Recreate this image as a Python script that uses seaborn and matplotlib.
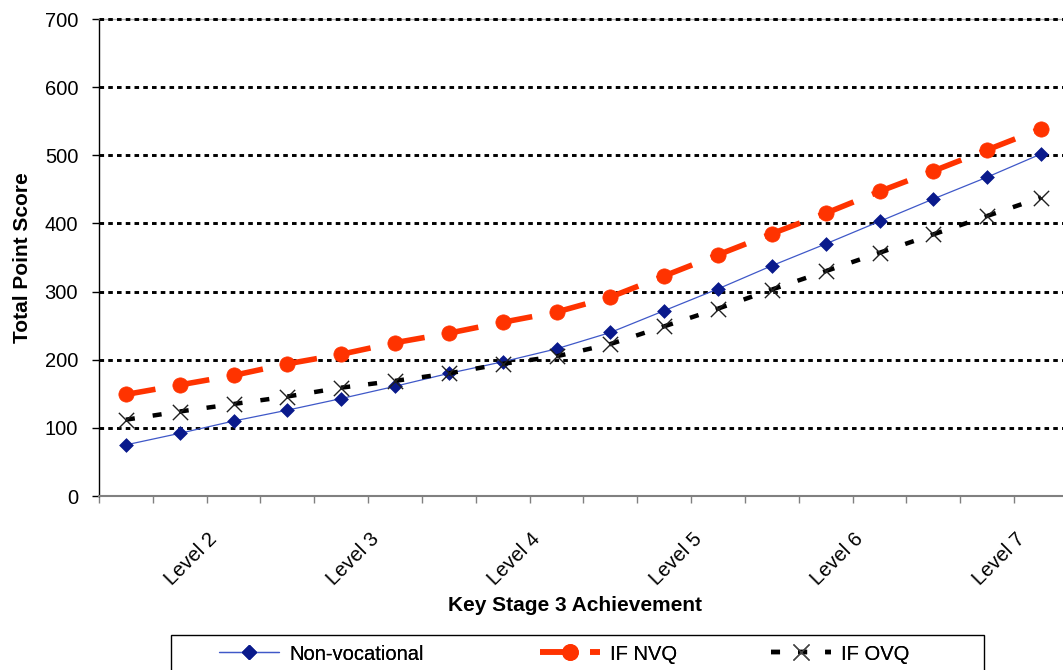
import numpy as np
import pandas as pd
import seaborn as sns
import matplotlib.pyplot as plt
from matplotlib.lines import Line2D
from matplotlib.patches import Rectangle
from matplotlib.transforms import ScaledTranslation

# values (18 points along the KS3 scale)
non_voc = [75, 92, 110, 126, 143, 161, 180, 197, 216, 240, 272, 304, 338, 370, 403, 436, 468, 502]
if_nvq = [149, 163, 177, 194, 208, 225, 239, 255, 270, 292, 323, 354, 385, 415, 447, 477, 508, 539]
if_ovq = [112, 124, 135, 146, 159, 169, 180, 194, 205, 223, 249, 275, 303, 330, 357, 384, 411, 438]

level_labels = ['Level 2', 'Level 3', 'Level 4', 'Level 5', 'Level 6', 'Level 7']
label_every = 3
y_ticks = [0, 100, 200, 300, 400, 500, 600, 700]
series_names = ['Non-vocational', 'IF NVQ', 'IF OVQ']

sns.set_theme(style='white')
plt.rcParams['font.family'] = ['Liberation Sans', 'DejaVu Sans']
plt.rcParams['lines.scale_dashes'] = False
plt.rcParams['text.color'] = 'black'
plt.rcParams['axes.labelcolor'] = 'black'
plt.rcParams['xtick.color'] = 'black'
plt.rcParams['ytick.color'] = 'black'

BLUE_LINE = '#3f58c8'
NAVY = '#0a1a8c'
RED = '#ff3300'

n = len(non_voc)
pos = np.arange(n)


def segments(vals):
    # one unit per segment so the dash pattern restarts at every point (like Excel)
    rows = []
    for i in range(len(vals) - 1):
        rows.append({'pos': i, 'score': vals[i], 'seg': i})
        rows.append({'pos': i + 1, 'score': vals[i + 1], 'seg': i})
    return pd.DataFrame(rows)


fig = plt.figure(figsize=(10.63, 6.70), dpi=100)
ax = fig.add_axes([0.0931, 0.2597, 0.9116, 0.7119])

# dotted gridlines (above the grey top border, below the series)
for v in y_ticks[1:]:
    ax.axhline(v, color='black', lw=2.1, linestyle=(0, (3.3, 3.0)), zorder=2.6, clip_on=False)

# Non-vocational
sns.lineplot(data=segments(non_voc), x='pos', y='score', units='seg', estimator=None,
             color=BLUE_LINE, linewidth=0.9, ax=ax, legend=False, zorder=3)
sns.scatterplot(x=pos, y=non_voc, marker='D', s=49, color=NAVY, edgecolor=NAVY,
                linewidth=0.5, ax=ax, legend=False, zorder=3.1)

# IF NVQ
sns.lineplot(data=segments(if_nvq), x='pos', y='score', units='seg', estimator=None,
             color=RED, linewidth=4, linestyle=(0, (21.6, 14.4)), ax=ax, legend=False, zorder=4)
sns.scatterplot(x=pos, y=if_nvq, marker='o', s=121, color=RED, edgecolor=RED,
                linewidth=0.5, ax=ax, legend=False, zorder=4.1)

# IF OVQ
sns.lineplot(data=segments(if_ovq), x='pos', y='score', units='seg', estimator=None,
             color='black', linewidth=3.2, linestyle=(0, (6.5, 13)), ax=ax, legend=False, zorder=5)
sns.scatterplot(x=pos, y=if_ovq, marker='x', s=121, color='#202020',
                linewidth=1, ax=ax, legend=False, zorder=5.1)

ax.set_xlim(-0.5, n - 0.5)
ax.set_ylim(y_ticks[0], y_ticks[-1])
ax.set_yticks(y_ticks)

# category axis: ticks between categories, a label every 3rd category
ax.set_xticks(np.arange(-0.5, n, 1), minor=True)
ax.set_xticks(pos[label_every - 1::label_every])
ax.set_xticklabels(level_labels)
ax.tick_params(axis='x', which='major', length=0, pad=29, labelsize=14.5)
ax.tick_params(axis='x', which='minor', length=5, width=1, color='#808080', direction='out', bottom=True)
ax.tick_params(axis='y', length=5, width=1, color='black', direction='out', left=True, pad=10, labelsize=14.5)
offset = ScaledTranslation(-0.19, 0, fig.dpi_scale_trans)
for lab in ax.get_xticklabels():
    lab.set_rotation(45)
    lab.set_ha('right')
    lab.set_va('center')
    lab.set_rotation_mode('anchor')
    lab.set_transform(lab.get_transform() + offset)

ax.spines['right'].set_visible(False)
ax.spines['top'].set_color('#b0b0b0')
ax.spines['top'].set_linewidth(1)
ax.spines['left'].set_color('black')
ax.spines['left'].set_linewidth(1)
ax.spines['bottom'].set_color('#808080')
ax.spines['bottom'].set_linewidth(1.5)

ax.set_xlabel('Key Stage 3 Achievement', fontsize=15, fontweight='bold')
ax.set_ylabel('Total Point Score', fontsize=15, fontweight='bold')
ax.xaxis.set_label_coords(0.491, -0.21)
ax.yaxis.set_label_coords(-0.069, 0.5)

# legend box (runs off the bottom of the picture)
fig.patches.append(Rectangle((171 / 1063, -0.05), 813 / 1063, 0.05 + 1 - 635 / 670,
                             transform=fig.transFigure, fill=False, edgecolor='black',
                             linewidth=1, zorder=1))
handles = [
    Line2D([], [], color=BLUE_LINE, lw=0.9, marker='D', markersize=7, mfc=NAVY, mec=NAVY),
    Line2D([], [], color=RED, lw=4, linestyle=(0, (21.6, 14.4)), marker='o', markersize=11,
           mfc=RED, mec=RED),
    Line2D([], [], color='black', lw=3.2, linestyle=(0, (6.5, 13)), marker='x', markersize=11,
           mec='#444444', mew=1),
]
legend_x = [219, 540, 771]
for h, name, lx in zip(handles, series_names, legend_x):
    leg = fig.legend([h], [name], loc='center left', bbox_to_anchor=(lx / 1063, 1 - 654 / 670),
                     frameon=False, fontsize=14.5, handlelength=3.0, handletextpad=0.5,
                     borderpad=0, borderaxespad=0, numpoints=1)
    fig.add_artist(leg)

fig.savefig('out.png', dpi=100)
